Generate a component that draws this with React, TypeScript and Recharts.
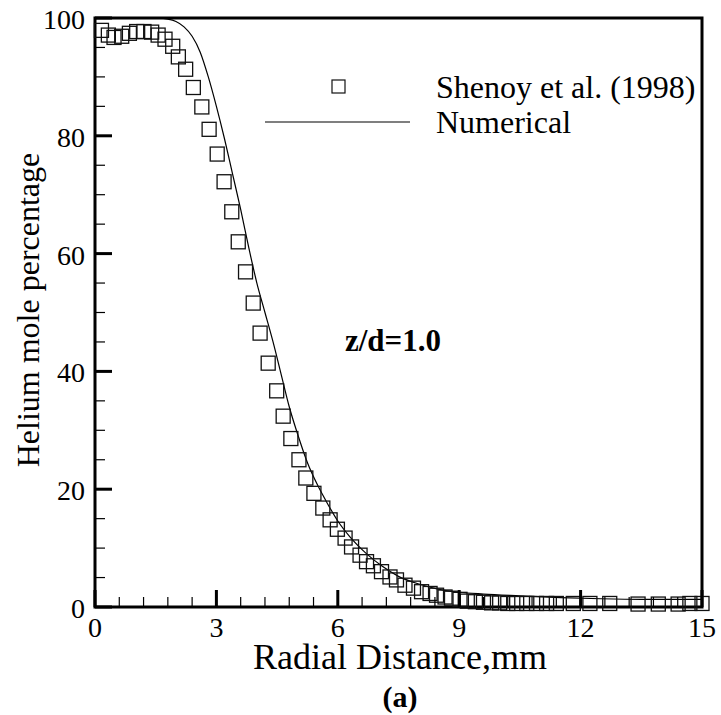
import React from 'react';
import { ComposedChart, Line, Scatter, XAxis, YAxis, ReferenceArea } from 'recharts';

// Shenoy et al. (1998) measurements
const expX = [
  0.16, 0.33, 0.47, 0.66, 0.85, 1.03, 1.21, 1.4, 1.56, 1.73, 1.92, 2.06, 2.24, 2.43, 2.64, 2.82, 3.02, 3.19,
  3.38, 3.54, 3.72, 3.91, 4.08, 4.28, 4.49, 4.65, 4.84, 5.04, 5.21, 5.41, 5.63, 5.81, 5.99, 6.18, 6.34, 6.55,
  6.71, 6.88, 7.08, 7.29, 7.45, 7.66, 7.87, 8.07, 8.28, 8.44, 8.65, 8.81, 9.02, 9.2, 9.4, 9.6, 9.8, 10.0,
  10.2, 10.42, 10.67, 10.91, 11.16, 11.4, 11.82, 12.23, 12.72, 13.42, 13.92, 14.41, 14.7, 15.0,
];
const expY = [
  97.9, 97.1, 96.7, 96.9, 97.4, 97.7, 97.7, 97.6, 97.1, 96.4, 95.2, 93.4, 91.3, 88.2, 84.9, 81.1, 76.9, 72.2,
  67.1, 62.0, 56.9, 51.6, 46.5, 41.4, 36.7, 32.4, 28.6, 25.0, 21.9, 19.3, 16.8, 14.8, 13.2, 11.7, 10.2, 8.8,
  7.7, 7.0, 6.0, 5.1, 4.6, 3.7, 3.2, 2.6, 2.3, 2.0, 1.7, 1.5, 1.3, 1.0, 0.9, 0.8, 0.7, 0.7,
  0.6, 0.6, 0.6, 0.6, 0.6, 0.6, 0.6, 0.6, 0.6, 0.5, 0.5, 0.5, 0.6, 0.6,
];

// numerical solution
const numX = [
  0, 0.5, 1.0, 1.5, 1.8, 2.0, 2.2, 2.4, 2.6, 2.8, 3.0, 3.2, 3.4, 3.6, 3.8, 4.0, 4.2, 4.4, 4.6, 4.8, 5.0,
  5.25, 5.5, 5.75, 6.0, 6.3, 6.7, 7.1, 7.5, 8.0, 8.5, 9.0, 9.6, 10.5, 11.5, 12.5, 13.5, 15,
];
const numY = [
  100, 100, 100, 100, 99.8, 99.4, 98.5, 96.9, 94.2, 90, 85, 79.5, 73.5, 67.5, 61, 55, 50, 45, 39.5, 34, 29.5,
  24.5, 20.7, 17.5, 14.6, 11.9, 9.1, 6.9, 5.2, 3.9, 3.0, 2.5, 2.2, 1.9, 1.6, 1.4, 1.3, 1.3,
];

const xMajor = [0, 3, 6, 9, 12, 15];
const yMajor = [0, 20, 40, 60, 80, 100];

const expData = expX.map((x, i) => ({ x, y: expY[i] }));
const numData = numX.map((x, i) => ({ x, y: numY[i] }));

// minor ticks: 5 steps between x majors, 4 between y majors
const xTicks: number[] = [];
for (let i = 0; i <= 25; i++) xTicks.push(Math.round(i * 0.6 * 1000) / 1000);
const yTicks: number[] = [];
for (let i = 0; i <= 20; i++) yTicks.push(i * 5);

const FONT = 'Liberation Serif, Times New Roman, serif';
const serif = { fontFamily: FONT };
const isMajor = (list: number[], v: number) => list.some((m) => Math.abs(m - v) < 1e-6);

const XTick = (props: any) => {
  const { x, y, payload } = props;
  const major = isMajor(xMajor, payload.value);
  return (
    <g style={serif}>
      <line x1={x} x2={x} y1={y} y2={y - (major ? 17 : 10)} stroke="#000" strokeWidth={major ? 3 : 1.2} />
      {major && (
        <text x={x} y={y + 30} textAnchor="middle" style={serif} fontSize={28} fill="#000">
          {String(payload.value)}
        </text>
      )}
    </g>
  );
};

const YTick = (props: any) => {
  const { x, y, payload } = props;
  const major = isMajor(yMajor, payload.value);
  return (
    <g style={serif}>
      <line x1={x} x2={x + (major ? 17 : 10)} y1={y} y2={y} stroke="#000" strokeWidth={major ? 3 : 1.2} />
      {major && (
        <text x={x - 10} y={y + 11} textAnchor="end" style={serif} fontSize={28} fill="#000">
          {String(payload.value)}
        </text>
      )}
    </g>
  );
};

const Square = (props: any) => {
  const { cx, cy } = props;
  if (cx == null || cy == null) return null;
  return <rect x={cx - 7} y={cy - 7} width={14} height={14} fill="none" stroke="#111" strokeWidth={1.3} />;
};

export default function App() {
  return (
    <div
      style={{ position: 'absolute', left: 0, top: 0, width: 721, height: 715, background: '#fff', fontFamily: FONT }}
    >
      <ComposedChart
        width={721}
        height={715}
        margin={{ top: 18, right: 19, bottom: 0, left: 0 }}
        style={{ fontFamily: FONT }}
      >
        <XAxis
          type="number"
          dataKey="x"
          domain={[0, 15]}
          ticks={xTicks}
          interval={0}
          tickSize={0}
          tickMargin={0}
          axisLine={false}
          tickLine={false}
          tick={<XTick />}
          height={108}
        />
        <YAxis
          type="number"
          dataKey="y"
          domain={[0, 100]}
          ticks={yTicks}
          interval={0}
          tickSize={0}
          tickMargin={0}
          axisLine={false}
          tickLine={false}
          tick={<YTick />}
          width={95}
        />
        <Scatter data={expData} dataKey="y" shape={<Square />} isAnimationActive={false} />
        <Line
          data={numData}
          dataKey="y"
          type="monotone"
          stroke="#000"
          strokeWidth={1.2}
          dot={false}
          activeDot={false}
          isAnimationActive={false}
        />
        <ReferenceArea x1={0} x2={15} y1={0} y2={100} fill="none" fillOpacity={0} stroke="#000" strokeWidth={3} />
      </ComposedChart>
      <svg
        width={721}
        height={715}
        style={{ position: 'absolute', left: 0, top: 0, pointerEvents: 'none', fontFamily: FONT }}
      >
        <rect x={332} y={80} width={13} height={13} fill="none" stroke="#111" strokeWidth={1.2} />
        <line x1={265} x2={410} y1={122} y2={122} stroke="#000" strokeWidth={1.2} />
        <text x={436} y={98} fontSize={32}>Shenoy et al. (1998)</text>
        <text x={436} y={133} fontSize={32}>Numerical</text>
        <text x={345} y={351} fontSize={31} fontWeight="bold">z/d=1.0</text>
        <text x={400} y={669} fontSize={36} textAnchor="middle">Radial Distance,mm</text>
        <text x={400} y={707} fontSize={30} fontWeight="bold" textAnchor="middle">(a)</text>
        <text transform="translate(39,310) rotate(-90)" fontSize={32} textAnchor="middle">
          Helium mole percentage
        </text>
      </svg>
    </div>
  );
}
